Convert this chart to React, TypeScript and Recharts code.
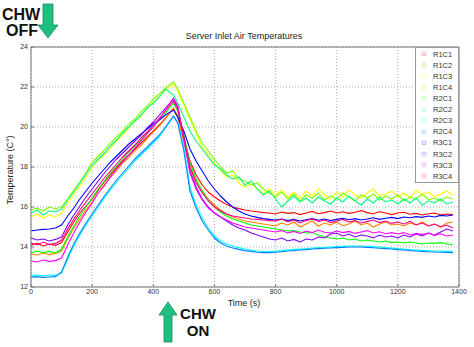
import { LineChart, Line, XAxis, YAxis, CartesianGrid, ReferenceLine } from 'recharts';

const times = [
  0, 20, 40, 60, 80, 100, 120, 140, 160, 180,
  200, 220, 240, 260, 280, 300, 320, 340, 360, 380,
  400, 420, 440, 466, 480, 500, 520, 540, 560, 580,
  600, 620, 640, 660, 680, 700, 720, 740, 760, 780,
  800, 820, 840, 860, 880, 900, 920, 940, 960, 980,
  1000, 1020, 1040, 1060, 1080, 1100, 1120, 1140, 1160, 1180,
  1200, 1220, 1240, 1260, 1280, 1300, 1320, 1340, 1360, 1380,
];

const r1c1 = [
  14.10, 14.18, 14.05, 14.14, 14.08, 14.22, 14.75, 15.25, 15.70, 16.05,
  16.40, 16.85, 17.25, 17.62, 17.98, 18.30, 18.60, 18.90, 19.20, 19.50,
  19.80, 20.10, 20.45, 20.90, 20.50, 19.40, 18.30, 17.60, 17.10, 16.75,
  16.50, 16.30, 16.12, 16.00, 15.92, 15.85, 15.80, 15.76, 15.72, 15.70,
  15.65, 15.75, 15.68, 15.72, 15.62, 15.70, 15.78, 15.66, 15.72, 15.80,
  15.70, 15.76, 15.68, 15.74, 15.82, 15.72, 15.66, 15.76, 15.70, 15.62,
  15.70, 15.74, 15.64, 15.68, 15.60, 15.66, 15.70, 15.60, 15.65, 15.62,
];
const r1c2 = [
  13.65, 13.60, 13.70, 13.62, 13.68, 13.80, 14.40, 14.95, 15.40, 15.85,
  16.25, 16.70, 17.05, 17.50, 17.82, 18.20, 18.48, 18.82, 19.08, 19.42,
  19.75, 20.05, 20.42, 20.95, 20.55, 19.20, 18.00, 17.30, 16.80, 16.40,
  16.10, 15.85, 15.65, 15.50, 15.40, 15.30, 15.25, 15.20, 15.15, 15.10,
  15.05, 15.20, 15.10, 15.25, 15.00, 15.15, 15.30, 15.05, 15.20, 15.10,
  15.25, 15.05, 15.15, 15.30, 15.10, 15.20, 15.00, 15.15, 15.25, 15.10,
  15.15, 15.05, 15.20, 15.10, 15.25, 15.05, 15.15, 15.00, 15.20, 15.25,
];
const r1c3 = [
  15.50, 15.65, 15.45, 15.60, 15.50, 15.70, 16.20, 16.65, 17.05, 17.50,
  18.00, 18.35, 18.60, 18.95, 19.30, 19.60, 19.95, 20.30, 20.55, 20.90,
  21.25, 21.50, 21.85, 22.15, 21.80, 21.10, 20.40, 19.70, 19.00, 18.60,
  18.20, 17.80, 17.50, 17.60, 17.20, 17.00, 17.15, 16.90, 16.70, 16.90,
  16.60, 16.85, 16.50, 16.75, 16.45, 16.80, 16.55, 16.90, 16.60, 16.40,
  16.75, 16.50, 16.85, 16.60, 16.45, 16.70, 16.90, 16.55, 16.65, 16.80,
  16.50, 16.70, 16.45, 16.85, 16.60, 16.75, 16.50, 16.65, 16.80, 16.60,
];
const r1c4 = [
  15.85, 15.95, 15.80, 16.00, 15.90, 16.00, 16.40, 16.85, 17.25, 17.70,
  18.25, 18.55, 18.85, 19.20, 19.50, 19.80, 20.15, 20.40, 20.75, 21.05,
  21.40, 21.65, 21.95, 22.25, 21.90, 21.20, 20.50, 19.80, 19.20, 18.80,
  18.40, 18.00, 17.70, 17.80, 17.40, 17.30, 17.10, 17.20, 16.90, 16.70,
  16.50, 16.75, 16.40, 16.65, 16.30, 16.60, 16.45, 16.70, 16.35, 16.55,
  16.40, 16.70, 16.50, 16.30, 16.60, 16.45, 16.65, 16.35, 16.55, 16.40,
  16.60, 16.30, 16.50, 16.40, 16.65, 16.35, 16.45, 16.30, 16.50, 16.40,
];
const r2c1 = [
  13.70, 13.80, 13.72, 13.78, 13.70, 13.90, 14.50, 15.05, 15.55, 16.00,
  16.45, 16.90, 17.30, 17.70, 18.05, 18.40, 18.75, 19.05, 19.35, 19.70,
  20.00, 20.35, 20.70, 21.20, 20.80, 19.60, 18.20, 17.40, 16.80, 16.35,
  16.00, 15.75, 15.55, 15.40, 15.30, 15.20, 15.10, 15.05, 15.00, 14.95,
  14.90, 14.85, 14.80, 14.82, 14.75, 14.70, 14.72, 14.60, 14.50, 14.45,
  14.40, 14.45, 14.35, 14.40, 14.30, 14.35, 14.30, 14.25, 14.30, 14.22,
  14.25, 14.20, 14.25, 14.20, 14.15, 14.20, 14.18, 14.22, 14.15, 14.10,
];
const r2c2 = [
  15.70, 15.85, 15.60, 15.80, 15.75, 15.90, 16.35, 16.75, 17.20, 17.65,
  18.10, 18.40, 18.70, 19.05, 19.35, 19.70, 20.00, 20.30, 20.60, 20.95,
  21.20, 21.50, 21.90, 21.60, 21.20, 20.50, 19.80, 19.30, 18.90, 18.50,
  18.10, 17.90, 17.60, 17.40, 17.50, 17.10, 17.30, 16.90, 16.60, 16.80,
  16.40, 16.00, 16.30, 16.55, 16.25, 16.45, 16.20, 16.50, 16.30, 16.15,
  16.45, 16.25, 16.55, 16.30, 16.10, 16.40, 16.20, 16.50, 16.25, 16.35,
  16.15, 16.40, 16.20, 16.45, 16.10, 16.30, 16.20, 16.40, 16.15, 16.25,
];
const r2c3 = [
  12.58, 12.60, 12.56, 12.60, 12.58, 12.70, 13.40, 14.05, 14.60, 15.10,
  15.55, 16.00, 16.45, 16.85, 17.25, 17.60, 17.95, 18.30, 18.60, 18.90,
  19.20, 19.50, 19.95, 20.50, 20.25, 19.00, 17.00, 16.10, 15.45, 14.95,
  14.55, 14.30, 14.15, 14.05, 13.97, 13.90, 13.85, 13.80, 13.78, 13.77,
  13.80, 13.82, 13.85, 13.88, 13.90, 13.92, 13.95, 13.97, 13.98, 14.00,
  14.02, 14.03, 14.05, 14.05, 14.05, 14.04, 14.02, 14.00, 13.97, 13.95,
  13.92, 13.90, 13.87, 13.85, 13.83, 13.82, 13.80, 13.80, 13.78, 13.78,
];
const r2c4 = [
  12.50, 12.52, 12.48, 12.50, 12.52, 12.75, 13.50, 14.15, 14.70, 15.20,
  15.65, 16.10, 16.55, 16.95, 17.35, 17.70, 18.05, 18.40, 18.70, 19.00,
  19.30, 19.60, 20.00, 20.55, 20.20, 18.80, 16.80, 15.95, 15.30, 14.85,
  14.45, 14.20, 14.05, 13.95, 13.88, 13.82, 13.78, 13.74, 13.72, 13.72,
  13.74, 13.76, 13.80, 13.82, 13.85, 13.87, 13.90, 13.92, 13.94, 13.95,
  13.97, 13.98, 14.00, 14.00, 14.00, 13.98, 13.96, 13.94, 13.92, 13.90,
  13.87, 13.85, 13.82, 13.80, 13.78, 13.76, 13.75, 13.74, 13.73, 13.72,
];
const r3c1 = [
  14.80, 14.85, 14.88, 14.90, 14.95, 15.10, 15.55, 15.95, 16.40, 16.80,
  17.20, 17.55, 17.90, 18.25, 18.55, 18.85, 19.15, 19.40, 19.65, 19.90,
  20.15, 20.35, 20.60, 20.85, 20.50, 19.80, 18.90, 18.30, 17.80, 17.30,
  16.90, 16.55, 16.25, 16.00, 15.80, 15.65, 15.55, 15.48, 15.42, 15.38,
  15.35, 15.40, 15.32, 15.38, 15.30, 15.36, 15.42, 15.34, 15.40, 15.32,
  15.38, 15.44, 15.36, 15.42, 15.35, 15.40, 15.46, 15.38, 15.44, 15.48,
  15.42, 15.50, 15.46, 15.52, 15.48, 15.55, 15.50, 15.58, 15.55, 15.60,
];
const r3c2 = [
  14.45, 14.35, 14.40, 14.30, 14.38, 14.50, 15.10, 15.60, 16.05, 16.50,
  16.90, 17.30, 17.70, 18.05, 18.40, 18.70, 19.00, 19.30, 19.60, 19.95,
  20.25, 20.60, 20.95, 21.40, 21.00, 19.50, 17.80, 17.00, 16.40, 16.00,
  15.70, 15.50, 15.30, 15.10, 14.95, 14.85, 14.70, 14.60, 14.50, 14.40,
  14.35, 14.45, 14.30, 14.38, 14.25, 14.40, 14.35, 14.50, 14.45, 14.65,
  14.70, 14.55, 14.65, 14.50, 14.60, 14.55, 14.45, 14.60, 14.50, 14.55,
  14.45, 14.60, 14.50, 14.65, 14.55, 14.70, 14.60, 14.75, 14.90, 14.80,
];
const r3c3 = [
  13.30, 13.25, 13.35, 13.28, 13.32, 13.45, 14.10, 14.70, 15.25, 15.75,
  16.20, 16.70, 17.10, 17.50, 17.90, 18.25, 18.60, 18.95, 19.30, 19.65,
  20.00, 20.40, 20.85, 21.45, 21.05, 19.40, 17.70, 16.90, 16.35, 15.95,
  15.70, 15.50, 15.35, 15.20, 15.10, 15.00, 14.95, 14.90, 14.85, 14.80,
  14.75, 14.82, 14.70, 14.78, 14.68, 14.80, 14.72, 14.85, 14.74, 14.70,
  14.80, 14.72, 14.78, 14.68, 14.75, 14.82, 14.70, 14.76, 14.66, 14.72,
  14.65, 14.72, 14.60, 14.68, 14.62, 14.70, 14.58, 14.66, 14.55, 14.60,
];
const r3c4 = [
  14.20, 14.10, 14.25, 14.12, 14.18, 14.35, 14.90, 15.40, 15.85, 16.25,
  16.65, 17.05, 17.45, 17.80, 18.15, 18.50, 18.80, 19.10, 19.45, 19.75,
  20.10, 20.45, 20.80, 21.30, 20.90, 19.50, 18.00, 17.20, 16.70, 16.30,
  16.00, 15.80, 15.65, 15.55, 15.50, 15.45, 15.40, 15.38, 15.35, 15.32,
  15.30, 15.40, 15.25, 15.35, 15.20, 15.32, 15.40, 15.28, 15.35, 15.22,
  15.30, 15.38, 15.25, 15.32, 15.20, 15.28, 15.35, 15.22, 15.30, 15.18,
  15.25, 15.15, 15.28, 15.10, 15.20, 15.05, 15.15, 15.00, 15.10, 14.95,
];

const seriesNames = ['R1C1', 'R1C2', 'R1C3', 'R1C4', 'R2C1', 'R2C2', 'R2C3', 'R2C4', 'R3C1', 'R3C2', 'R3C3', 'R3C4'];
const seriesValues = [r1c1, r1c2, r1c3, r1c4, r2c1, r2c2, r2c3, r2c4, r3c1, r3c2, r3c3, r3c4];
const seriesColors = [
  '#ff0000', '#ff8000', '#ffff00', '#80ff00', '#00ff00', '#00ff80',
  '#00ffff', '#0080ff', '#0000ff', '#8000ff', '#ff00ff', '#ff0080',
];

const xTicks = [0, 200, 400, 600, 800, 1000, 1200, 1400];
const yTicks = [12, 14, 16, 18, 20, 22, 24];

const data = times.map((t, i) => {
  const row: Record<string, number> = { t };
  seriesNames.forEach((name, k) => { row[name] = seriesValues[k][i]; });
  return row;
});

const FONT = '"Liberation Sans", Arial, Helvetica, sans-serif';
const ARROW = '#1fbf82';

export default function App() {
  return (
    <div style={{ position: 'absolute', left: 0, top: 0, width: 474, height: 347, background: '#fff', fontFamily: FONT }}>
      <LineChart width={474} height={347} data={data} margin={{ top: 47, right: 15, left: 6, bottom: 40 }}>
        <CartesianGrid stroke="#aaa" strokeDasharray="1 2" />
        <XAxis
          dataKey="t"
          type="number"
          domain={[0, 1400]}
          ticks={xTicks}
          height={20}
          stroke="#777"
          tickSize={-3}
          tickMargin={5}
          tick={{ fontSize: 7, fill: '#333', fontFamily: FONT }}
        />
        <YAxis
          type="number"
          domain={[12, 24]}
          ticks={yTicks}
          width={25}
          stroke="#777"
          tickSize={-3}
          tickMargin={6}
          tick={{ fontSize: 7, fill: '#333', fontFamily: FONT }}
        />
        <ReferenceLine y={24} stroke="#777" />
        <ReferenceLine x={1400} stroke="#777" />
        {seriesNames.map((name, k) => (
          <Line
            key={name}
            dataKey={name}
            stroke={seriesColors[k]}
            strokeWidth={1.1}
            dot={false}
            type="linear"
            isAnimationActive={false}
          />
        ))}
      </LineChart>
      <svg width={474} height={347} style={{ position: 'absolute', left: 0, top: 0, pointerEvents: 'none' }}>
        <text x={244} y={39} textAnchor="middle" fontSize={9} fill="#222" fontFamily={FONT}>Server Inlet Air Temperatures</text>
        <text x={244} y={306} textAnchor="middle" fontSize={9} fill="#222" fontFamily={FONT}>Time (s)</text>
        <text x={0} y={0} transform="translate(13,170) rotate(-90)" textAnchor="middle" fontSize={9} fill="#222" fontFamily={FONT}>Temperature (C°)</text>

        <rect x={415.5} y={47.5} width={43} height={135} fill="#fff" stroke="#999" />
        {seriesNames.map((name, k) => (
          <g key={name}>
            <circle cx={424} cy={54 + k * 11.1} r={1.8} fill="none" stroke={seriesColors[k]} strokeOpacity={0.5} strokeWidth={0.7} />
            <text x={433} y={56.6 + k * 11.1} fontSize={7.5} fill="#333" fontFamily={FONT}>{name}</text>
          </g>
        ))}

        <text x={21} y={20} textAnchor="middle" fontSize={16} fontWeight="bold" fill="#111" fontFamily={FONT}>CHW</text>
        <text x={22} y={36} textAnchor="middle" fontSize={16} fontWeight="bold" fill="#111" fontFamily={FONT}>OFF</text>
        <polygon points="43,4 53,4 53,25 58,25 48,38 38,25 43,25" fill={ARROW} stroke="#138a5c" strokeWidth={0.8} />

        <polygon points="168,302 177,315 172,315 172,342 164,342 164,315 159,315" fill={ARROW} stroke="#138a5c" strokeWidth={0.8} />
        <text x={198} y={319} textAnchor="middle" fontSize={15} fontWeight="bold" fill="#111" fontFamily={FONT}>CHW</text>
        <text x={198} y={336} textAnchor="middle" fontSize={15} fontWeight="bold" fill="#111" fontFamily={FONT}>ON</text>
      </svg>
    </div>
  );
}
